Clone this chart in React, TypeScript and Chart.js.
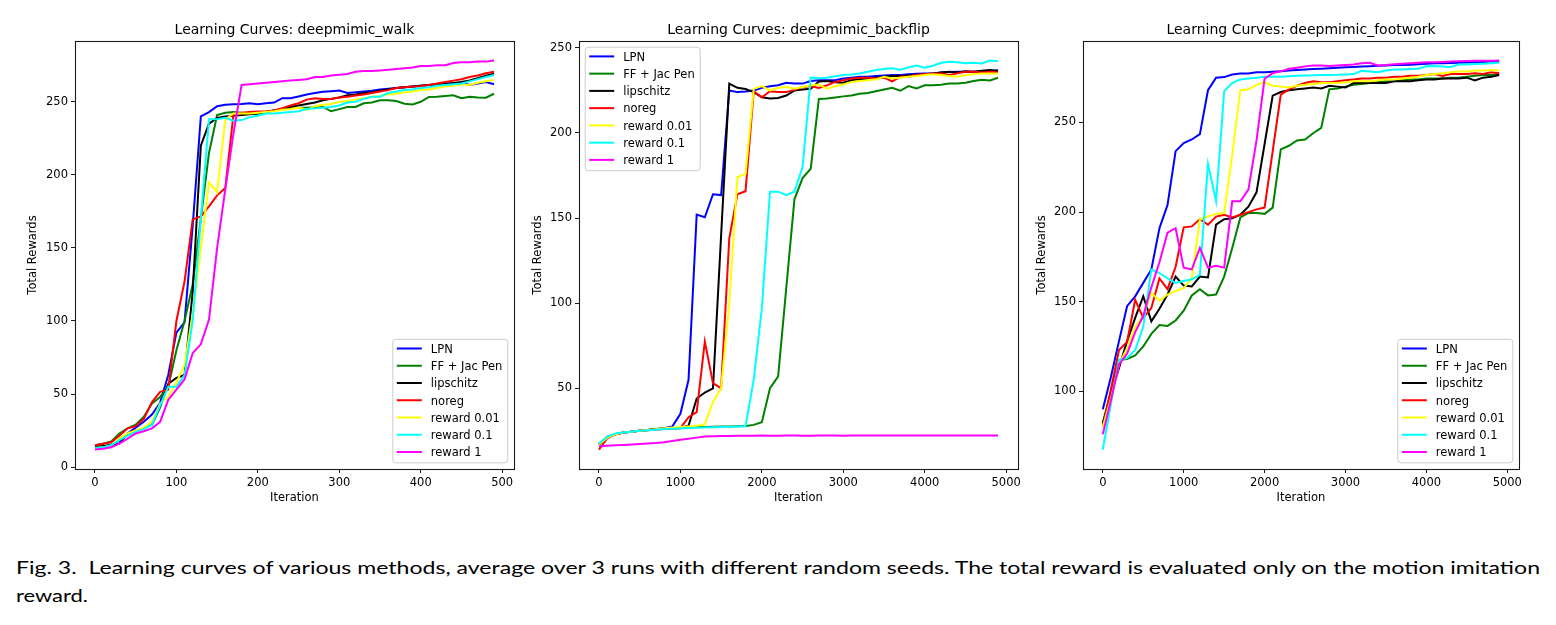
import React, { useEffect, useRef } from "react";
import { Chart, registerables } from "chart.js";

Chart.register(...registerables);

// ---- series names and colours (shared by all three panels) ----
const SERIES_LABELS = ["LPN", "FF + Jac Pen", "lipschitz", "noreg", "reward 0.01", "reward 0.1", "reward 1"];
const SERIES_COLORS = ["#0000ff", "#008000", "#000000", "#ff0000", "#ffff00", "#00ffff", "#ff00ff"];

// ---- iteration grids ----
const walkIters = [
  0, 10, 20, 30, 40, 50, 60, 70, 80, 90,
  100, 110, 120, 130, 140, 150, 160, 170, 180, 190,
  200, 210, 220, 230, 240, 250, 260, 270, 280, 290,
  300, 310, 320, 330, 340, 350, 360, 370, 380, 390,
  400, 410, 420, 430, 440, 450, 460, 470, 480, 490,
];
const longIters = [
  0, 100, 200, 300, 400, 500, 600, 700, 800, 900,
  1000, 1100, 1200, 1300, 1400, 1500, 1600, 1700, 1800, 1900,
  2000, 2100, 2200, 2300, 2400, 2500, 2600, 2700, 2800, 2900,
  3000, 3100, 3200, 3300, 3400, 3500, 3600, 3700, 3800, 3900,
  4000, 4100, 4200, 4300, 4400, 4500, 4600, 4700, 4800, 4900,
];

// ---- tick labels ----
const walkXTicks = [0, 100, 200, 300, 400, 500];
const longXTicks = [0, 1000, 2000, 3000, 4000, 5000];
const walkYTicks = [0, 50, 100, 150, 200, 250];
const backflipYTicks = [50, 100, 150, 200, 250];
const footworkYTicks = [100, 150, 200, 250];

// ---- deepmimic_walk ----
const walkLPN = [
  13, 14, 15.5, 18, 23, 27, 31, 36, 44, 63,
  92, 99, 165, 240, 243, 247, 248, 248.3, 248.5, 249,
  248.3, 249, 249.5, 252.5, 252.5, 253.7, 255, 256, 256.8, 257.3,
  257.7, 256, 256.5, 257, 257.5, 258.5, 259, 259.5, 260, 260.5,
  261, 261.5, 262, 262.5, 262.5, 263, 261.5, 262.5, 263.5, 262,
];
const walkFF = [
  15, 16, 17.5, 23, 26.5, 29, 34.5, 43.5, 48, 55,
  80, 100, 125, 170, 215, 241, 242.5, 243, 242.5, 242,
  242, 243, 244, 245, 245.5, 246, 246, 246.3, 246.5, 243.5,
  245, 246.5, 246.5, 249, 249.5, 251, 251, 250.5, 248.7, 248.2,
  250, 253.3, 253.5, 254, 254.5, 252.5, 253.5, 253, 252.8, 255.5,
];
const walkLip = [
  14, 14.5, 15, 16, 23, 25, 26.5, 29, 41, 57,
  61, 63, 120, 220, 235, 239, 240, 240.5, 241, 241.5,
  242, 243, 244, 245, 246.5, 247.5, 248.5, 249.5, 251, 252,
  253, 254.5, 255, 256, 256.5, 257.5, 258.5, 259.5, 260, 260.5,
  261, 261.5, 262, 262.2, 262.8, 263.5, 264.6, 266.2, 267.8, 269.3,
];
const walkNoreg = [
  15, 16, 17, 21.5, 26.5, 28, 33, 44.5, 51.5, 53,
  100, 127, 169.5, 171.5, 178.5, 186, 191, 241, 242.5, 243,
  243.3, 243.5, 244, 245.7, 247.5, 249, 251.5, 252.5, 252, 252,
  253, 253.5, 254.3, 255, 256, 257, 258, 259.5, 260, 260.5,
  260.7, 261.5, 262.5, 263.5, 264.5, 265.5, 267, 268, 269.5, 270.5,
];
const walkR001 = [
  13, 13.5, 15, 19.5, 23, 25, 27, 31, 43.5, 48,
  58, 70, 105, 150, 195, 188, 238, 242, 242, 242,
  242.5, 243, 243.5, 244.5, 245, 246, 244.5, 247, 248, 248.5,
  250, 250.5, 251.5, 252.5, 253.5, 254, 255, 255.5, 256.5, 257,
  258, 258.5, 259.5, 260.5, 261, 262, 261.5, 263, 264, 265,
];
const walkR01 = [
  13, 13.5, 15, 18.5, 21.5, 24, 26, 29, 42, 55,
  55, 63, 100, 170, 238, 238, 239, 237, 237.5, 239.5,
  240.5, 242, 242, 242.5, 243, 243.5, 245, 245.5, 246, 246.5,
  247.5, 249.5, 250, 252, 253.5, 253.5, 256, 257, 258, 258.5,
  259.5, 260, 261, 261.5, 262, 262.5, 264, 265.5, 267, 268.3,
];
const walkR1 = [
  12, 12.5, 13.5, 16, 19.5, 23, 24.5, 26.5, 31, 46,
  53, 60, 78, 84, 101, 150, 190, 228, 261.5, 262,
  262.5, 263, 263.5, 264, 264.5, 265, 265.5, 267, 267, 268,
  268.5, 269, 270.5, 271, 271, 271.5, 272, 272.5, 273, 273.5,
  274.5, 274.5, 275, 275, 276.5, 277, 277, 277.5, 277.5, 278.3,
];

// ---- deepmimic_backflip ----
const bfLPN = [
  17, 21, 23, 24, 24.5, 25, 25.5, 26, 26.5, 27.5,
  35, 55, 152, 150.5, 164, 163.5, 225, 224, 224.3, 225,
  226.5, 227.5, 228, 229.5, 229, 229, 230.5, 231, 231, 231,
  232, 232.5, 233, 233, 233.5, 233.8, 234, 234, 234.5, 234.8,
  235, 235, 235.5, 235.8, 236, 236, 236, 236.3, 236.5, 236.8,
];
const bfFF = [
  17, 21, 23, 24, 24.5, 25, 25.5, 26, 26.3, 26.6,
  26.8, 27, 27.2, 27.3, 27.4, 27.5, 27.6, 27.7, 27.8, 28.5,
  30, 50, 57, 109, 161, 173.5, 179, 220, 220.2, 220.8,
  221.5, 222, 223, 223.5, 224.5, 225.5, 226.5, 224.8, 227.5, 226.2,
  228, 228, 228.3, 229, 229, 229.5, 230.5, 231.2, 230.8, 232.4,
];
const bfLip = [
  17, 21.5, 23, 24, 24.5, 25, 25.5, 26, 26.3, 26.5,
  26.5, 28, 44, 47.5, 50, 140, 229, 226.5, 225.8, 224,
  221, 220.3, 220.5, 222, 225, 225.5, 226, 230.2, 230.5, 229.8,
  229.5, 231, 231.5, 232, 232.5, 233, 233.5, 233.5, 233.8, 234,
  234.5, 235, 235.5, 236, 235.5, 236.3, 236, 236.5, 237, 236.2,
];
const bfNoreg = [
  14, 20.5, 23, 24, 24.5, 25, 25.3, 25.6, 26, 26.3,
  26.6, 33, 36, 77.5, 53, 50, 138, 164, 165.8, 224.5,
  221, 224.5, 224, 224, 225.3, 227, 227.5, 226.5, 228, 230,
  231, 232, 232.5, 232.5, 232, 232.5, 230.3, 233, 233, 234,
  234.5, 235, 235, 234, 235, 236, 236, 235.5, 236, 235.7,
];
const bfR001 = [
  17, 21, 23, 24, 24.5, 25, 25.5, 26, 26.5, 27,
  27.3, 27.6, 28, 28.8, 42, 50, 100, 174, 176, 226,
  227.5, 225, 226.5, 227, 226, 227, 228, 228.5, 226, 227.5,
  228.5, 230, 230.5, 231, 231.5, 233, 232, 232.5, 233, 233.5,
  234, 234.5, 234, 233.5, 233, 234, 234.5, 235, 235, 235,
];
const bfR01 = [
  17.5, 21.5, 23.5, 24, 24.5, 25, 25.3, 25.6, 26, 26.2,
  26.4, 26.6, 26.8, 27, 27.1, 27.3, 27.4, 27.5, 27.7, 55,
  97, 165.5, 165.5, 163.5, 165.5, 180, 232.5, 232.2, 232.5, 233.3,
  234, 234.3, 235, 236, 237, 237.6, 238, 237.2, 238.5, 239.6,
  238.4, 239.5, 241.2, 241.8, 241.5, 241, 241.2, 240.8, 242.6, 242.2,
];
const bfR1 = [
  16, 16.3, 16.5, 16.7, 17, 17.2, 17.5, 17.8, 18.3, 19,
  19.8, 20.4, 21, 21.6, 21.8, 21.9, 22, 22.1, 22.1, 22.1,
  22.2, 22.1, 22.1, 22.2, 22.2, 22.1, 22.1, 22.2, 22.2, 22.2,
  22.1, 22.2, 22.2, 22.2, 22.2, 22.2, 22.2, 22.3, 22.2, 22.2,
  22.2, 22.3, 22.3, 22.3, 22.2, 22.2, 22.2, 22.3, 22.3, 22.3,
];

// ---- deepmimic_footwork ----
const fwLPN = [
  90, 108, 128, 147.5, 153, 160.5, 168, 191, 204, 234,
  238.5, 240.5, 243.5, 268, 275, 275.3, 276.8, 277.3, 277.3, 278,
  278, 278.3, 278.6, 279, 279.3, 279.6, 279.8, 280, 280.3, 280.5,
  280.8, 281, 281.2, 281.4, 281.6, 281.8, 282, 282, 282.2, 282.5,
  282.8, 283, 283, 283.2, 283.3, 283.5, 283.6, 283.8, 284, 284,
];
const fwFF = [
  82.5, 100, 117.5, 118, 120, 125, 132, 137, 136.5, 139.5,
  145, 153.5, 157, 153.5, 154, 164, 180, 197, 199.5, 199.5,
  199, 202.5, 235, 237, 240, 240.5, 244, 247, 268.5, 269,
  270, 271, 271.5, 272, 272.5, 273, 273, 273.5, 274, 274,
  274.5, 274.5, 274.5, 275, 275, 275.5, 276, 276.5, 276.5, 277,
];
const fwLip = [
  82, 98, 113, 128, 141, 153, 139, 146, 154, 164,
  159, 158.5, 164, 163.5, 193, 196, 196.5, 198.5, 203, 211,
  238, 265, 267, 268, 268.5, 269, 269.5, 269, 270.5, 270,
  269.5, 272, 272, 272, 272, 272, 273, 273, 273, 273.5,
  274, 274, 274.5, 274.5, 274.5, 275, 273.5, 275, 275.5, 276.5,
];
const fwNoreg = [
  80, 101, 123, 127.5, 151, 141, 146.5, 163, 157, 169.5,
  191.5, 192, 196, 193, 197.5, 198.5, 197, 198.5, 200, 201.5,
  202.5, 234, 265.5, 268.5, 270.5, 272, 273, 272.5, 272.5, 273,
  273.5, 274, 274.5, 274.5, 275, 275, 275.5, 275.5, 276, 276,
  276.5, 277, 276, 277, 277, 277, 277.5, 277, 278, 277.5,
];
const fwR001 = [
  80, 96, 115, 124, 136, 142, 155, 150.5, 154, 156,
  157.5, 163, 196, 197.5, 199, 199.5, 232, 268, 268.5, 271,
  272.5, 270.5, 270, 269.5, 270.5, 271, 271.5, 272, 272, 272,
  272.5, 273, 273, 273, 273.5, 274, 274, 274.5, 275, 275.5,
  276.5, 277, 277.5, 278, 278.5, 278.5, 279, 279, 279.2, 279.2,
];
const fwR01 = [
  67.5, 93, 117.5, 118.5, 123, 136, 168, 166, 163, 160.5,
  161.5, 162.5, 165, 227, 206, 267.5, 272, 274, 274.5, 275,
  275.5, 275.5, 275.5, 275.8, 276, 276.2, 276.3, 276.5, 276.5, 276.6,
  276.8, 277, 278.8, 278.5, 278, 279, 279.5, 279.6, 279.8, 280,
  281.4, 281.5, 281.2, 281, 282.3, 282.4, 282.6, 282.8, 283, 283.3,
];
const fwR1 = [
  76, 95, 115, 121, 133, 142, 158, 172, 188.5, 191,
  169, 168, 180, 169, 170, 169, 206, 206, 212.5, 240,
  274.5, 277.5, 278.5, 280, 280.5, 281.3, 281.8, 281.8, 281.5, 281.8,
  282, 282.3, 283, 283.3, 281.8, 282, 282.5, 282.8, 283, 283.3,
  283.6, 283.6, 283.8, 284, 284.2, 284.3, 284.4, 284.5, 284.5, 284.6,
];

const CAPTION_LINE_1 =
  "Fig. 3.  Learning curves of various methods, average over 3 runs with different random seeds. The total reward is evaluated only on the motion imitation";
const CAPTION_LINE_2 = "reward.";

type LegendCorner = "lower right" | "upper left";

interface PanelSpec {
  title: string;
  iters: number[];
  series: number[][];
  xTicks: number[];
  yTicks: number[];
  legendCorner: LegendCorner;
}

interface PanelFrame {
  left: number;
  width: number;
  yAxisWidth: number;
  padRight: number;
  yTitlePad: number;
}

const PANELS: { spec: PanelSpec; frame: PanelFrame }[] = [
  {
    spec: {
      title: "Learning Curves: deepmimic_walk",
      iters: walkIters,
      series: [walkLPN, walkFF, walkLip, walkNoreg, walkR001, walkR01, walkR1],
      xTicks: walkXTicks,
      yTicks: walkYTicks,
      legendCorner: "lower right",
    },
    frame: { left: 0, width: 520, yAxisWidth: 75, padRight: 6, yTitlePad: 26.4 },
  },
  {
    spec: {
      title: "Learning Curves: deepmimic_backflip",
      iters: longIters,
      series: [bfLPN, bfFF, bfLip, bfNoreg, bfR001, bfR01, bfR1],
      xTicks: longXTicks,
      yTicks: backflipYTicks,
      legendCorner: "upper left",
    },
    frame: { left: 520, width: 510, yAxisWidth: 59, padRight: 12, yTitlePad: 11.1 },
  },
  {
    spec: {
      title: "Learning Curves: deepmimic_footwork",
      iters: longIters,
      series: [fwLPN, fwFF, fwLip, fwNoreg, fwR001, fwR01, fwR1],
      xTicks: longXTicks,
      yTicks: footworkYTicks,
      legendCorner: "lower right",
    },
    frame: { left: 1030, width: 526, yAxisWidth: 53, padRight: 37, yTitlePad: 5.1 },
  },
];

const CANVAS_H = 515;
const FONT = "DejaVu Sans";
const TICK_SIZE = 11.5;

// axis limits with a 5% margin on each side
function paddedRange(values: number[]): [number, number] {
  const lo = Math.min(...values);
  const hi = Math.max(...values);
  const span = hi - lo;
  return [lo - 0.05 * span, hi + 0.05 * span];
}

// full box around the plotting area
const framePlugin = {
  id: "axesFrame",
  afterDatasetsDraw(chart: any) {
    const { ctx, chartArea: a } = chart;
    ctx.save();
    ctx.strokeStyle = "#1a1a1a";
    ctx.lineWidth = 1.1;
    const l = Math.floor(a.left) + 0.5;
    const t = Math.floor(a.top) + 0.5;
    const r = Math.floor(a.right) + 0.5;
    const b = Math.floor(a.bottom) + 0.5;
    ctx.strokeRect(l, t, r - l, b - t);
    ctx.restore();
  },
};

function roundedRect(ctx: CanvasRenderingContext2D, x: number, y: number, w: number, h: number, r: number) {
  ctx.beginPath();
  ctx.moveTo(x + r, y);
  ctx.lineTo(x + w - r, y);
  ctx.arcTo(x + w, y, x + w, y + r, r);
  ctx.lineTo(x + w, y + h - r);
  ctx.arcTo(x + w, y + h, x + w - r, y + h, r);
  ctx.lineTo(x + r, y + h);
  ctx.arcTo(x, y + h, x, y + h - r, r);
  ctx.lineTo(x, y + r);
  ctx.arcTo(x, y, x + r, y, r);
  ctx.closePath();
}

// boxed legend tucked into a corner of the plotting area
function cornerLegend(corner: LegendCorner) {
  return {
    id: "cornerLegend",
    afterDraw(chart: any) {
      const { ctx, chartArea: a } = chart;
      ctx.save();
      ctx.font = `${TICK_SIZE}px "${FONT}"`;
      const textW = Math.max(...SERIES_LABELS.map((s) => ctx.measureText(s).width));
      const w = 38 + textW + 5.5;
      const rowGap = 17.25;
      const h = 18.5 + rowGap * (SERIES_LABELS.length - 1) + 1.5;
      const inset = 6.2;
      const x0 = corner === "upper left" ? a.left + inset : a.right - inset - w;
      const y0 = corner === "upper left" ? a.top + inset : a.bottom - inset - h;
      roundedRect(ctx, x0, y0, w, h, 3);
      ctx.fillStyle = "rgba(255,255,255,0.8)";
      ctx.fill();
      ctx.strokeStyle = "#cccccc";
      ctx.lineWidth = 1;
      ctx.stroke();
      SERIES_LABELS.forEach((label, i) => {
        const y = y0 + 9.2 + i * rowGap;
        ctx.strokeStyle = SERIES_COLORS[i];
        ctx.lineWidth = 2;
        ctx.beginPath();
        ctx.moveTo(x0 + 4, y);
        ctx.lineTo(x0 + 29, y);
        ctx.stroke();
        ctx.fillStyle = "#000";
        ctx.textBaseline = "middle";
        ctx.textAlign = "left";
        ctx.fillText(label, x0 + 38, y + 1.3);
      });
      ctx.restore();
    },
  };
}

function buildConfig(spec: PanelSpec, frame: PanelFrame): any {
  const [xMin, xMax] = paddedRange(spec.iters);
  const [yMin, yMax] = paddedRange(spec.series.flat());
  const n = spec.series.length;
  const tickFont = { family: FONT, size: TICK_SIZE };
  const grid = {
    drawOnChartArea: false,
    drawTicks: true,
    tickLength: 4,
    tickColor: "#1a1a1a",
    tickWidth: 1,
  };
  return {
    type: "line",
    data: {
      datasets: spec.series.map((vals, i) => ({
        label: SERIES_LABELS[i],
        data: vals.map((v, k) => ({ x: spec.iters[k], y: v })),
        borderColor: SERIES_COLORS[i],
        backgroundColor: SERIES_COLORS[i],
        borderWidth: 2,
        pointRadius: 0,
        tension: 0,
        fill: false,
        order: n - 1 - i,
      })),
    },
    options: {
      animation: false,
      responsive: false,
      maintainAspectRatio: false,
      devicePixelRatio: 1,
      events: [],
      layout: { padding: { top: 0, left: 0, bottom: 0, right: frame.padRight } },
      plugins: {
        legend: { display: false },
        tooltip: { enabled: false },
        title: {
          display: true,
          text: spec.title,
          fullSize: false,
          color: "#000",
          font: { family: FONT, size: 14, weight: "normal" },
          padding: { top: 21.6, bottom: 2.6 },
        },
      },
      scales: {
        x: {
          type: "linear",
          min: xMin,
          max: xMax,
          afterBuildTicks: (s: any) => {
            s.ticks = spec.xTicks.map((v) => ({ value: v }));
          },
          afterFit: (s: any) => {
            s.height = CANVAS_H - 469;
          },
          ticks: {
            color: "#000",
            font: tickFont,
            padding: 3,
            maxRotation: 0,
            autoSkip: false,
            callback: (v: any) => String(v),
          },
          grid,
          border: { display: false },
          title: {
            display: true,
            text: "Iteration",
            color: "#000",
            font: tickFont,
            padding: { top: 0, bottom: 10.1 },
          },
        },
        y: {
          type: "linear",
          min: yMin,
          max: yMax,
          afterBuildTicks: (s: any) => {
            s.ticks = spec.yTicks.map((v) => ({ value: v }));
          },
          afterFit: (s: any) => {
            s.width = frame.yAxisWidth;
          },
          ticks: {
            color: "#000",
            font: tickFont,
            padding: 3,
            autoSkip: false,
            callback: (v: any) => String(v),
          },
          grid,
          border: { display: false },
          title: {
            display: true,
            text: "Total Rewards",
            color: "#000",
            font: tickFont,
            padding: { top: frame.yTitlePad, bottom: 0 },
          },
        },
      },
    },
    plugins: [framePlugin, cornerLegend(spec.legendCorner)],
  };
}

function LearningCurvePanel({ spec, frame }: { spec: PanelSpec; frame: PanelFrame }) {
  const ref = useRef<HTMLCanvasElement | null>(null);
  useEffect(() => {
    if (!ref.current) return;
    const chart = new Chart(ref.current, buildConfig(spec, frame));
    return () => chart.destroy();
  }, [spec, frame]);
  return (
    <canvas
      ref={ref}
      width={frame.width}
      height={CANVAS_H}
      style={{ position: "absolute", left: frame.left, top: 0, width: frame.width, height: CANVAS_H }}
    />
  );
}

export default function App() {
  return (
    <div
      style={{
        position: "absolute",
        left: 0,
        top: 0,
        width: 1556,
        height: 625,
        background: "#ffffff",
        overflow: "hidden",
      }}
    >
      {PANELS.map((p) => (
        <LearningCurvePanel key={p.spec.title} spec={p.spec} frame={p.frame} />
      ))}
      <svg
        width={1556}
        height={85}
        style={{ position: "absolute", left: 0, top: 540 }}
      >
        <text
          x={16}
          y={34.3}
          fontFamily="Lato"
          fontSize={17}
          fill="#000"
          textLength={1524}
          lengthAdjust="spacingAndGlyphs"
          style={{ whiteSpace: "pre" }}
        >
          {CAPTION_LINE_1}
        </text>
        <text
          x={16}
          y={61.7}
          fontFamily="Lato"
          fontSize={17}
          fill="#000"
          textLength={72}
          lengthAdjust="spacingAndGlyphs"
          style={{ whiteSpace: "pre" }}
        >
          {CAPTION_LINE_2}
        </text>
      </svg>
    </div>
  );
}
